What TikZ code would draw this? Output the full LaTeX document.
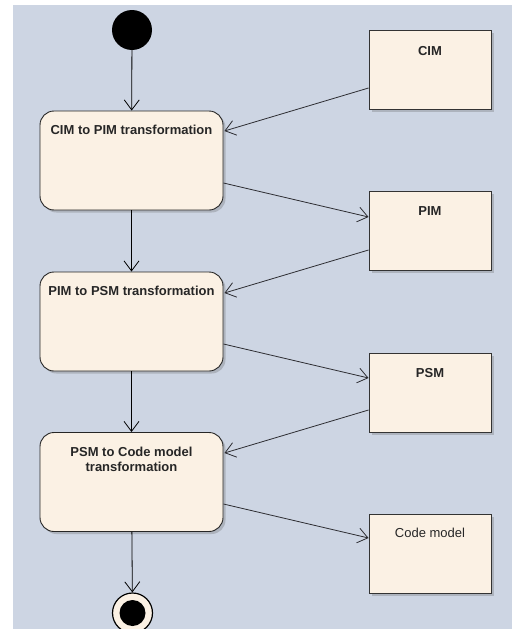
\documentclass[tikz,border=0pt]{standalone}
\usepackage{fontspec}
\setmainfont{Liberation Sans}
\usetikzlibrary{arrows.meta,shadows}
\definecolor{canvas}{RGB}{205,213,227}
\definecolor{boxfill}{RGB}{251,241,228}
\definecolor{edge}{RGB}{45,45,50}
\begin{document}
\begin{tikzpicture}[x=1pt,y=-1pt,
  boxshadow/.style={drop shadow={shadow xshift=2.5pt,shadow yshift=-2.5pt,opacity=0.3,fill=black!60}},
  action/.style={draw=black!85,line width=0.9pt,fill=boxfill,rounded corners=14pt,
    minimum width=183pt,minimum height=99pt,inner sep=0pt,boxshadow},
  artefact/.style={draw=black!80,line width=0.9pt,fill=boxfill,
    minimum width=122pt,minimum height=79pt,inner sep=0pt,boxshadow},
  caption/.style={font=\fontsize{13pt}{15pt}\selectfont\bfseries,align=center,inner sep=0pt,text=black!85},
  plaincaption/.style={font=\fontsize{13pt}{15pt}\selectfont,align=center,inner sep=0pt,text=black!85},
  flow/.style={draw=edge,line width=0.8pt,-{Straight Barb[length=10pt,width=15pt]}},
  vflow/.style={draw=black,line width=0.8pt,-{Straight Barb[length=10pt,width=15pt]}}
]
% page and canvas
\useasboundingbox (0,0) rectangle (512,629);
\fill[white] (0,0) rectangle (512,629);
\fill[canvas] (13,5) rectangle (512,629);

% initial and final states
\node[circle,fill=black,minimum size=40pt,inner sep=0pt] (start) at (132,30) {};
\node[circle,draw=black,line width=1.2pt,fill=boxfill,minimum size=40pt,inner sep=0pt] (stop) at (132.5,613) {};
\node[circle,fill=black,minimum size=26pt,inner sep=0pt] (stopdot) at (stop.center) {};

% actions
\node[action] (a1) at (131.5,160.5) {};
\node[action] (a2) at (131.5,321.5) {};
\node[action] (a3) at (131.5,482) {};
\node[caption] (a1t) at ([yshift=-19pt]a1.north) {CIM to PIM transformation};
\node[caption] (a2t) at ([yshift=-19pt]a2.north) {PIM to PSM transformation};
\node[caption] (a3t) at ([yshift=-27.5pt]a3.north) {PSM to Code model\\transformation};

% models
\node[artefact] (cim) at (430,69.5) {};
\node[artefact] (pim) at (430,231) {};
\node[artefact] (psm) at (430,392.5) {};
\node[artefact] (code) at (430,553.5) {};
\node[caption] (cimt) at ([yshift=-21pt]cim.north) {CIM};
\node[caption] (pimt) at ([yshift=-20pt]pim.north) {PIM};
\node[caption] (psmt) at ([yshift=-20pt]psm.north) {PSM};
\node[plaincaption] (codet) at ([yshift=-19pt]code.north) {Code model};

% control flow
\draw[vflow] (start) -- (a1);
\draw[vflow] (a1) -- (a2);
\draw[vflow] (a2) -- (a3);
\draw[vflow] (a3) -- (stop);

% object flow
\draw[flow] ([yshift=-18.5pt]cim.west) -- ([xshift=1pt,yshift=29.5pt]a1.east);
\draw[flow] ([yshift=-22.5pt]a1.east) -- ([yshift=14pt]pim.west);
\draw[flow] ([yshift=-19pt]pim.west) -- ([xshift=1pt,yshift=28.5pt]a2.east);
\draw[flow] ([yshift=-22.5pt]a2.east) -- ([yshift=14.5pt]psm.west);
\draw[flow] ([yshift=-17.5pt]psm.west) -- ([xshift=1pt,yshift=29pt]a3.east);
\draw[flow] ([yshift=-22pt]a3.east) -- ([yshift=15.5pt]code.west);
\end{tikzpicture}
\end{document}
